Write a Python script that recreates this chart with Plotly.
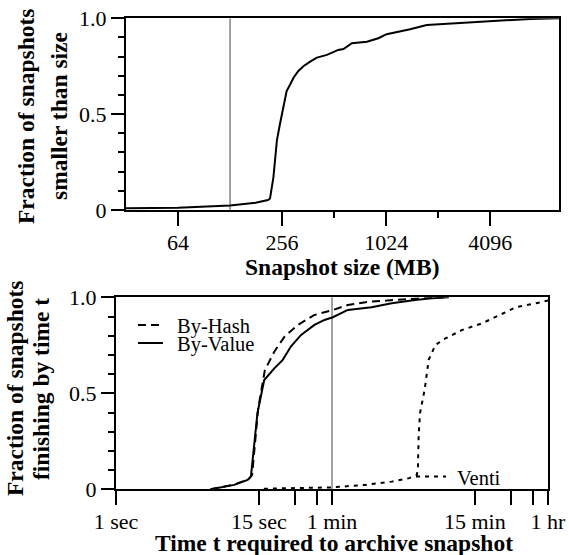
import math
import plotly.graph_objects as go

# ---------------- data ----------------
size_mb = [32, 64, 128, 180, 212, 218, 228, 239, 249, 262, 272, 285, 298, 318, 340, 372,
           407, 465, 541, 580, 648, 793, 923, 1031, 1180, 1409, 1758, 2200, 2870, 4480, 6980, 10240]
size_frac = [0.009, 0.012, 0.023, 0.038, 0.052, 0.06, 0.17, 0.365, 0.45, 0.56, 0.62, 0.655, 0.69, 0.725, 0.75, 0.774,
             0.795, 0.809, 0.835, 0.84, 0.87, 0.878, 0.896, 0.917, 0.927, 0.943, 0.965, 0.97, 0.979, 0.988, 0.997, 1.0]

size_ticks = [64, 256, 1024, 4096]
size_tick_text = ["64", "256", "1024", "4096"]
size_minor = [512, 2048]
size_marker = [128]

t_value = [6, 9.4, 12.1, 12.9, 14.6, 16.6, 20.1, 23.6, 27.6, 33.4, 43, 52, 61, 81, 127, 186, 290, 398, 550]
f_value = [0, 0.023, 0.049, 0.066, 0.396, 0.569, 0.63, 0.674, 0.745, 0.804, 0.856, 0.882, 0.896, 0.934, 0.948,
           0.969, 0.986, 0.995, 1.0]

t_hash = [6, 9.4, 12.3, 13.2, 14.8, 16.8, 20.1, 24.4, 31.4, 43, 61, 81, 119, 186, 330, 500]
f_hash = [0, 0.025, 0.052, 0.075, 0.42, 0.62, 0.717, 0.795, 0.856, 0.908, 0.934, 0.960, 0.977, 0.986, 0.995, 1.0]

t_venti = [16.5, 30, 60, 112, 186, 256, 300, 306, 310, 318, 326, 347, 375, 426, 515, 708, 1037, 1426, 1958, 2867, 3600]
f_venti = [0.003, 0.005, 0.01, 0.023, 0.04, 0.057, 0.075, 0.118, 0.274, 0.396, 0.43, 0.517, 0.674, 0.752, 0.786,
           0.83, 0.865, 0.908, 0.948, 0.969, 0.983]

time_ticks = [1, 15, 60, 900, 3600]
time_tick_text = ["1 sec", "15 sec", "1 min", "15 min", "1 hr"]
time_minor = [30, 45, 1800, 2700]
time_marker = [60]

frac_ticks = [0, 0.5, 1.0]
frac_tick_text = ["0", "0.5", "1.0"]

# ---------------- layout helpers ----------------
W, H = 569, 555
FONT = "Liberation Serif, Times New Roman, Times, serif"


def px(x):
    return x / W


def py(y):
    return 1 - y / H


fig = go.Figure()

# gray reference lines
fig.add_trace(go.Scatter(x=[size_marker[0]] * 2, y=[0, 1], mode="lines",
                         line=dict(color="#8a8a8a", width=1.6), xaxis="x", yaxis="y",
                         showlegend=False, hoverinfo="skip"))
fig.add_trace(go.Scatter(x=[time_marker[0]] * 2, y=[0, 1], mode="lines",
                         line=dict(color="#8a8a8a", width=1.6), xaxis="x2", yaxis="y2",
                         showlegend=False, hoverinfo="skip"))

fig.add_trace(go.Scatter(x=size_mb, y=size_frac, mode="lines", line=dict(color="black", width=2),
                         xaxis="x", yaxis="y", showlegend=False))
fig.add_trace(go.Scatter(x=t_venti, y=f_venti, mode="lines", name="Venti",
                         line=dict(color="black", width=2, dash="4px,5px"),
                         xaxis="x2", yaxis="y2", showlegend=False))
fig.add_trace(go.Scatter(x=t_hash, y=f_hash, mode="lines", name="By-Hash",
                         line=dict(color="black", width=2, dash="8px,5px"),
                         xaxis="x2", yaxis="y2", showlegend=False))
fig.add_trace(go.Scatter(x=t_value, y=f_value, mode="lines", name="By-Value",
                         line=dict(color="black", width=2),
                         xaxis="x2", yaxis="y2", showlegend=False))

axis_common = dict(showline=True, linewidth=2, linecolor="black", mirror=True, showgrid=False,
                   zeroline=False, ticks="outside", tickwidth=2, tickcolor="black",
                   ticklabeloverflow="allow",
                   tickfont=dict(family=FONT, size=22, color="black"), automargin=False)

fig.update_layout(
    width=W, height=H,
    margin=dict(l=0, r=0, t=0, b=0),
    paper_bgcolor="white", plot_bgcolor="white",
    font=dict(family=FONT, color="black"),
    showlegend=False,
    xaxis=dict(domain=[px(126), px(559)], type="log", range=[math.log10(32), math.log10(10240)],
               tickmode="array", tickvals=size_ticks, ticktext=size_tick_text, ticklen=14,
               minor=dict(tickmode="array", tickvals=size_minor, ticklen=6, tickwidth=2,
                          tickcolor="black", ticks="outside"),
               ticklabelstandoff=-2,
               anchor="y", **axis_common),
    yaxis=dict(domain=[py(210), py(18.3)], range=[0, 1], tickmode="array", tickvals=frac_ticks,
               ticktext=frac_tick_text, ticklen=13,
               minor=dict(dtick=0.1, ticklen=6, tickwidth=2, tickcolor="black", ticks="outside"),
               anchor="x", **axis_common),
    xaxis2=dict(domain=[px(116), px(548)], type="log", range=[0, math.log10(3600)],
                tickmode="array", tickvals=time_ticks, ticktext=time_tick_text, ticklen=14,
                minor=dict(tickmode="array", tickvals=time_minor, ticklen=14, tickwidth=2,
                           tickcolor="black", ticks="outside"),
                ticklabelstandoff=-3,
                anchor="y2", **axis_common),
    yaxis2=dict(domain=[py(489.3), py(297.3)], range=[0, 1], tickmode="array", tickvals=frac_ticks,
                ticktext=frac_tick_text, ticklen=13,
                minor=dict(dtick=0.1, ticklen=6, tickwidth=2, tickcolor="black", ticks="outside"),
                anchor="x2", **axis_common),
)

title_font = dict(family=FONT, size=23.5, color="black")
legend_font = dict(family=FONT, size=20.5, color="black")

annotations = [
    dict(text="<b>Snapshot size (MB)</b>", x=px(342), y=py(267)),
    dict(text="<b>Time t required to archive snapshot</b>", x=px(334), y=py(543)),
    dict(text="<b>Fraction of snapshots</b>", x=px(26), y=py(117), textangle=-90),
    dict(text="<b>smaller than size</b>", x=px(59), y=py(116), textangle=-90),
    dict(text="<b>Fraction of snapshots</b>", x=px(15), y=py(389), textangle=-90),
    dict(text="<b>finishing by time t</b>", x=px(41), y=py(389), textangle=-90),
]
for a in annotations:
    a.update(xref="paper", yref="paper", showarrow=False, font=title_font,
             xanchor="center", yanchor="middle")

legend_items = [
    ("By-Hash", "8px,5px", 138, 163, 325, 175),
    ("By-Value", "solid", 138, 163, 343, 175),
    ("Venti", "4px,5px", 416, 446, 476.5, 455),
]
shapes = []
for label, dash, x0, x1, yc, xt in legend_items:
    shapes.append(dict(type="line", xref="paper", yref="paper", x0=px(x0), x1=px(x1),
                       y0=py(yc), y1=py(yc), line=dict(color="black", width=2, dash=dash)))
    annotations.append(dict(text=label, x=px(xt), y=py(yc + 1), xref="paper", yref="paper",
                            showarrow=False, font=legend_font, xanchor="left", yanchor="middle"))

fig.update_layout(annotations=annotations, shapes=shapes)

# remove the default 8px page margin so the figure fills the window exactly
fig.write_html("out.html", config={"displayModeBar": False},
               post_script="document.body.style.margin='0px';")
